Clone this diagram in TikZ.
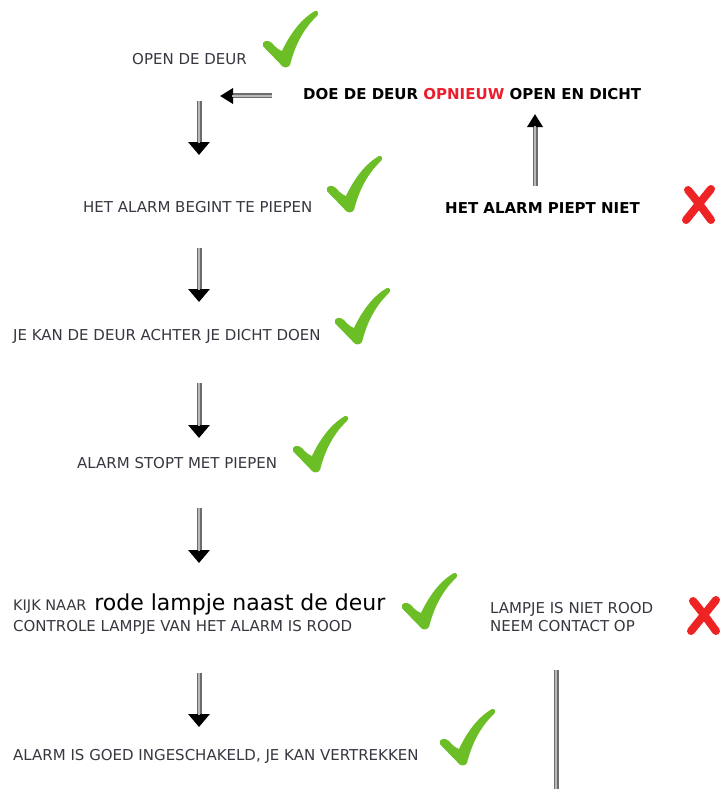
\documentclass[tikz,border=0pt]{standalone}
\usepackage{fontspec}
\setmainfont{DejaVu Sans}
\usetikzlibrary{arrows.meta}
\definecolor{vinkgroen}{RGB}{108,190,38}
\definecolor{kruisrood}{RGB}{238,36,36}
\definecolor{tekstgrijs}{RGB}{55,55,65}
\definecolor{woordrood}{RGB}{235,30,45}

\tikzset{
  txt/.style={anchor=base west, inner sep=0pt, text=tekstgrijs, font=\fontsize{15}{18}\selectfont},
  vet/.style={txt, text=black, font=\fontsize{15}{18}\selectfont\bfseries},
  schacht/.style={draw=gray!85!black, line width=5pt},
  binnen/.style={postaction={draw=gray!55, line width=1.8pt, -, shorten >=#1}},
  binnen/.default=0pt,
  pijl/.style={schacht, -{Triangle[width=#1, length=13pt, color=black]}, binnen=12pt},
  pijl/.default=21pt,
  vinkje/.pic={
    \fill[vinkgroen] (0,1) .. controls (-6,-6) and (-14,-13) .. (-19,-19)
      .. controls (-21,-24) and (-14,-26) .. (-10,-22)
      .. controls (-7,-18) and (-3,-15) .. (0,-14)
      .. controls (8,-31) and (19,-46) .. (33,-54)
      .. controls (36,-55) and (37,-51) .. (35,-49)
      .. controls (22,-37) and (13,-20) .. (8,0)
      .. controls (6,3) and (2,3) .. (0,1) -- cycle;
  },
  kruis/.pic={
    \draw[kruisrood, line width=8pt, line cap=round]
      (-11,-15) .. controls (-2,-4) .. (12,15)
      (12,-16) .. controls (0,-1) .. (-13,15);
  }
}

\begin{document}
\begin{tikzpicture}[x=1pt, y=-1pt]
  %%%%% START %%%%%
  \useasboundingbox[fill=white] (0,0) rectangle (723,789);

  % stappen links
  \node[txt] (open) at (132,65) {OPEN DE DEUR};
  \node[txt] (begint) at (83,212) {HET ALARM BEGINT TE PIEPEN};
  \node[txt] (dicht) at (13,340) {JE KAN DE DEUR ACHTER JE DICHT DOEN};
  \node[txt] (stopt) at (77,468) {ALARM STOPT MET PIEPEN};
  \node[txt] (kijk) at (13,610) {{\fontsize{14.5}{16}\selectfont KIJK NAAR}\hspace{3pt} {\color{black}\fontsize{22}{24}\selectfont rode lampje naast de deur}};
  \node[txt] (controle) at (13,631) {CONTROLE LAMPJE VAN HET ALARM IS ROOD};
  \node[txt] (vertrek) at (13,760) {ALARM IS GOED INGESCHAKELD, JE KAN VERTREKKEN};

  % rechts
  \node[vet] (opnieuw) at (303,100) {DOE DE DEUR \textcolor{woordrood}{OPNIEUW} OPEN EN DICHT};
  \node[vet] (piepniet) at (445,213) {HET ALARM PIEPT NIET};
  \node[txt] (nietrood) at (490,613) {LAMPJE IS NIET ROOD};
  \node[txt] (contact) at (490,631) {NEEM CONTACT OP};

  % pijlen
  \coordinate (o1) at (199,101);  \coordinate (o2) at (199,155);
  \coordinate (b1) at (199,248);  \coordinate (b2) at (199,302);
  \coordinate (d1) at (199,383);  \coordinate (d2) at (199,438);
  \coordinate (s1) at (199,508);  \coordinate (s2) at (199,563);
  \coordinate (k1) at (199,673);  \coordinate (k2) at (199,727);
  \coordinate (l1) at (272,96);   \coordinate (l2) at (220,96);
  \coordinate (p1) at (535,186);  \coordinate (p2) at (535,114);
  \coordinate (r1) at (556,670);  \coordinate (r2) at (556,789);

  \draw[pijl] (o1) -- (o2);
  \draw[pijl] (b1) -- (b2);
  \draw[pijl] (d1) -- (d2);
  \draw[pijl] (s1) -- (s2);
  \draw[pijl] (k1) -- (k2);
  \draw[pijl=15pt] (l1) -- (l2);
  \draw[pijl=15pt] (p1) -- (p2);
  \draw[schacht, binnen] (r1) -- (r2);

  % vinkjes en kruisjes
  \pic at (282,65) {vinkje};
  \pic at (346,210) {vinkje};
  \pic at (354,342) {vinkje};
  \pic at (312,470) {vinkje};
  \pic at (421,627) {vinkje};
  \pic at (459,763) {vinkje};
  \pic at (699,205) {kruis};
  \pic at (704,616) {kruis};
  %%%%% END %%%%%
\end{tikzpicture}
\end{document}
